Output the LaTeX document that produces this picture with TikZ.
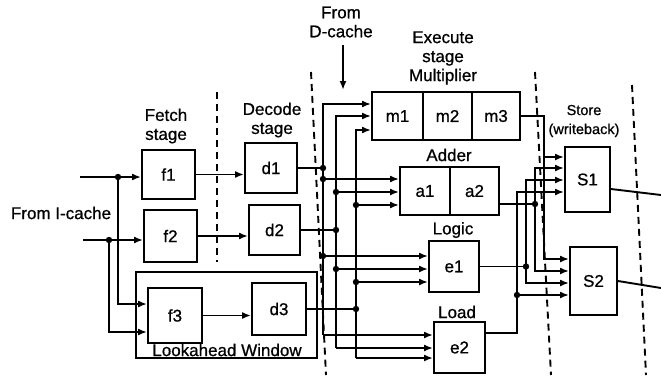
\documentclass[tikz,border=0pt]{standalone}
\usepackage{fontspec}
\setmainfont{Liberation Sans}
\newfontfamily\scanfont{Liberation Sans}[FakeBold=0.8]
\usetikzlibrary{arrows.meta}
\begin{document}
\begin{tikzpicture}[x=1pt,y=-1pt,
  every node/.style={font=\scanfont\fontsize{17}{19}\selectfont},
  box/.style={draw, line width=1.9pt, inner sep=0pt},
  wire/.style={line width=1.9pt},
  arr/.style={wire, -{Latex[length=9pt,width=7pt]}},
  stagesep/.style={line width=1.9pt, dash pattern=on 7pt off 5pt},
  lbl/.style={align=center}]
\useasboundingbox (0,0) rectangle (661,375);

% stage separators
\draw[stagesep] (217,92) -- (217,262);
\draw[stagesep] (311,72) -- (326,375);
\draw[stagesep] (535,72) -- (551,375);
\draw[stagesep] (632,85) -- (646,375);

% labels
\node[lbl] (lic) at (61,213) {From I-cache};
\node[lbl] (lfe) at (166,126) {Fetch\\stage};
\node[lbl] (lde) at (272,120) {Decode\\stage};
\node[lbl] (ldc) at (341,22) {From\\D-cache};
\node[lbl] (lex) at (443,58) {Execute\\stage\\Multiplier};
\node (lad) at (449,155) {Adder};
\node (llo) at (453,230) {Logic};
\node (llq) at (457,312) {Load};
\node[lbl, font=\scanfont\fontsize{14.5}{19}\selectfont] (lst) at (584,121) {Store\\(writeback)};

% boxes
\node[box, minimum width=181pt, minimum height=86pt] (la) at (226.5,315) {};
\node (lat) at (227,350) {Lookahead Window};
\node[box, minimum width=53pt, minimum height=49pt] (f1) at (168.5,174.5) {f1};
\node[box, minimum width=53pt, minimum height=52pt] (f2) at (170.5,236) {f2};
\node[box, minimum width=54pt, minimum height=55pt] (f3) at (175,315.5) {f3};
\node[box, minimum width=52pt, minimum height=50pt] (d1) at (271,168) {d1};
\node[box, minimum width=51pt, minimum height=50pt] (d2) at (274.5,230) {d2};
\node[box, minimum width=54pt, minimum height=52pt] (d3) at (279,309) {d3};
\node[box, minimum width=51pt, minimum height=48pt] (m1) at (397.5,116) {m1};
\node[box, minimum width=49pt, minimum height=48pt] (m2) at (447.5,116) {m2};
\node[box, minimum width=48pt, minimum height=48pt] (m3) at (496,116) {m3};
\node[box, minimum width=50pt, minimum height=48pt] (a1) at (425,191) {a1};
\node[box, minimum width=49pt, minimum height=48pt] (a2) at (474.5,191) {a2};
\node[box, minimum width=50pt, minimum height=51pt] (e1) at (454,266.5) {e1};
\node[box, minimum width=51pt, minimum height=51pt] (e2) at (459.5,347.5) {e2};
\node[box, minimum width=45pt, minimum height=65pt] (S1) at (587.5,179.5) {S1};
\node[box, minimum width=47pt, minimum height=68pt] (S2) at (593.5,281) {S2};

% I-cache inputs
\coordinate (i1) at (80,177);  \coordinate (j1) at (118,177);
\coordinate (i2) at (83,240);  \coordinate (j2) at (109,240);
\coordinate (k1) at (118,304); \coordinate (k2) at (109,332);
\draw[arr] (i1) -- (f1.west |- i1);
\draw[arr] (i2) -- (f2.west |- i2);
\draw[arr] (j1) -- (k1) -- (f3.west |- k1);
\draw[arr] (j2) -- (k2) -- (f3.west |- k2);
\fill (j1) circle (3.2pt);
\fill (j2) circle (3.2pt);

% fetch -> decode
\draw[arr] (f1) -- (d1.west |- f1);
\draw[arr] (f2) -- (d2.west |- f2);
\draw[arr] (f3) -- (d3.west |- f3);

% D-cache arrow
\coordinate (dct) at (343,45); \coordinate (dcb) at (343,90);
\draw[arr] (dct) -- (dcb);

% decode -> execute buses
\coordinate (b1t) at (323,104); \coordinate (b1a) at (323,179);
\coordinate (b1e) at (323,256); \coordinate (b1b) at (323,335);
\coordinate (b2t) at (336,116); \coordinate (b2a) at (336,192);
\coordinate (b2e) at (336,269); \coordinate (b2b) at (336,348);
\coordinate (b3t) at (356,130); \coordinate (b3a) at (356,205);
\coordinate (b3e) at (356,282); \coordinate (b3b) at (356,358);

\draw[arr] (b1b) -- (b1t) -- (m1.west |- b1t);
\draw[arr] (b1b) -- (e2.west |- b1b);
\draw[arr] (b1a) -- (a1.west |- b1a);
\draw[arr] (b1e) -- (e1.west |- b1e);
\draw[arr] (b2b) -- (b2t) -- (m1.west |- b2t);
\draw[arr] (b2b) -- (e2.west |- b2b);
\draw[arr] (b2a) -- (a1.west |- b2a);
\draw[arr] (b2e) -- (e1.west |- b2e);
\draw[arr] (b3b) -- (b3t) -- (m1.west |- b3t);
\draw[arr] (b3b) -- (e2.west |- b3b);
\draw[arr] (b3a) -- (a1.west |- b3a);
\draw[arr] (b3e) -- (e1.west |- b3e);

\draw[wire] (d1.east) -- (d1.east -| b1t);
\draw[wire] (d2.east) -- (d2.east -| b2t);
\draw[wire] (d3.east) -- (d3.east -| b3t);
\fill (d1.east -| b1t) circle (3.2pt);
\fill (d2.east -| b2t) circle (3.2pt);
\fill (d3.east -| b3t) circle (3.2pt);
\fill (b1a) circle (3.2pt); \fill (b1e) circle (3.2pt);
\fill (b2a) circle (3.2pt); \fill (b2e) circle (3.2pt);
\fill (b3a) circle (3.2pt); \fill (b3e) circle (3.2pt);

% execute -> store
\coordinate (c1t) at (544,116); \coordinate (c1s) at (544,157); \coordinate (c1b) at (544,259);
\draw[arr] (m3.east) -- (c1t) -- (c1b) -- (S2.west |- c1b);
\draw[arr] (c1s) -- (S1.west |- c1s);

\coordinate (c2d) at (535,204); \coordinate (c2t) at (535,168); \coordinate (c2b) at (535,271);
\draw[wire] ([yshift=-13pt]a2.east) -- (c2d);
\draw[arr] (c2d) -- (c2t) -- (S1.west |- c2t);
\draw[arr] (c2d) -- (c2b) -- (S2.west |- c2b);
\fill (c2d) circle (3.2pt);

\coordinate (c3d) at (526,266.5); \coordinate (c3t) at (526,180); \coordinate (c3b) at (526,283);
\draw[wire] (e1.east) -- (c3d);
\draw[arr] (c3d) -- (c3t) -- (S1.west |- c3t);
\draw[arr] (c3d) -- (c3b) -- (S2.west |- c3b);
\fill (c3d) circle (3.2pt);

\coordinate (c4o) at (517,333); \coordinate (c4t) at (517,192); \coordinate (c4d) at (517,295);
\draw[arr] ([yshift=14.5pt]e2.east) -- (c4o) -- (c4t) -- (S1.west |- c4t);
\draw[arr] (c4d) -- (S2.west |- c4d);
\fill (c4d) circle (3.2pt);

% store outputs
\coordinate (o1) at (661,195); \coordinate (o2) at (661,288);
\draw[wire] ([yshift=-9.5pt]S1.east) -- (o1);
\draw[wire] (S2.east) -- (o2);
\end{tikzpicture}
\end{document}
